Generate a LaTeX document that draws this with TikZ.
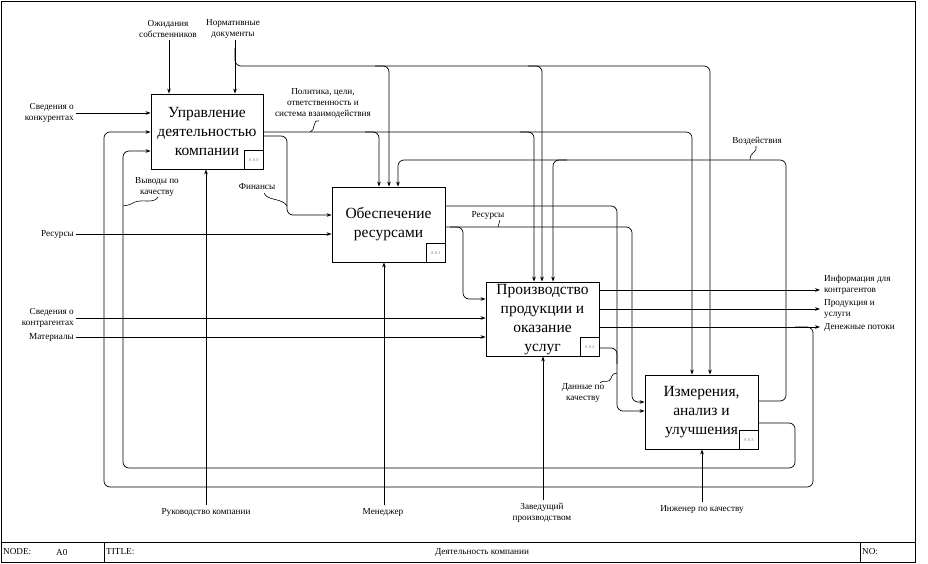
\documentclass[tikz,border=0pt]{standalone}
\usepackage{fontspec}
\setmainfont{Liberation Serif}
\usetikzlibrary{arrows.meta}
\begin{document}
\begin{tikzpicture}[x=1pt,y=-1pt,
  ln/.style={line width=0.7pt, rounded corners=6pt},
  arr/.style={ln, -{Stealth[length=5pt,width=3.6pt]}},
  fbox/.style={draw, line width=0.9pt, inner sep=0pt},
  ftext/.style={align=center, inner sep=0pt, font=\fontsize{15.5}{19}\selectfont},
  tagbox/.style={draw, line width=0.8pt, minimum size=19pt, inner sep=0pt, anchor=south east, font=\fontsize{4.5}{5}\selectfont, text=gray},
  lbl/.style={align=center, inner sep=0pt, font=\fontsize{9.2}{11}\selectfont},
  lblr/.style={lbl, align=right, anchor=east},
  lbll/.style={lbl, align=left, anchor=west},
  sq/.style={line width=0.6pt}
]
\useasboundingbox (0,0) rectangle (928,564);
% frame
\draw[line width=0.9pt] (1,1) rectangle (915,562);
\draw[line width=0.8pt] (1,542) -- (915,542);
\draw[line width=0.8pt] (104,542) -- (104,562);
\draw[line width=0.8pt] (860,542) -- (860,562);
\node[lbll] (fnode) at (3,552) {NODE:};
\node[lbll] (fa0) at (56,552) {A0};
\node[lbll] (ftitle) at (106,552) {TITLE:};
\node[lbl] (fname) at (482,552) {Деятельность компании};
\node[lbll] (fno) at (862,552) {NO:};

% function boxes
\node[fbox, minimum width=112pt, minimum height=75pt] (A0) at (207,131.5) {};
\node[fbox, minimum width=113pt, minimum height=75pt] (A1) at (388.5,224.5) {};
\node[fbox, minimum width=113pt, minimum height=74pt] (A2) at (542.5,319) {};
\node[fbox, minimum width=113pt, minimum height=74pt] (A3) at (701.5,412) {};
\node[ftext] (A0x) at (207,131.5) {Управление\\деятельностью\\компании};
\node[ftext] (A1x) at (388.5,224.5) {Обеспечение\\ресурсами};
\node[ftext] (A2x) at (542.5,319.5) {Производство\\продукции и\\оказание\\услуг};
\node[ftext] (A3x) at (701.5,412) {Измерения,\\анализ и\\улучшения};
\node[tagbox] (A0t) at (A0.south east) {A 0.0};
\node[tagbox] (A1t) at (A1.south east) {A 0.1};
\node[tagbox] (A2t) at (A2.south east) {A 0.2};
\node[tagbox] (A3t) at (A3.south east) {A 0.3};

% labels
\node[lbl] (lOzh) at (168,29) {Ожидания\\собственников};
\node[lbl] (lNorm) at (233,29) {Нормативные\\документы};
\node[lblr] (lKonk) at (74,112.5) {Сведения о\\конкурентах};
\node[lbl] (lPol) at (323,103) {Политика, цели,\\ответственность и\\система взаимодействия};
\node[lbl] (lVyv) at (157,187) {Выводы по\\качеству};
\node[lbl] (lFin) at (257,187) {Финансы};
\node[lblr] (lRes) at (74,234) {Ресурсы};
\node[lbl] (lRes2) at (488,215) {Ресурсы};
\node[lbl] (lVozd) at (757,141) {Воздействия};
\node[lblr] (lKontr) at (74,318) {Сведения о\\контрагентах};
\node[lblr] (lMat) at (74,337) {Материалы};
\node[lbll] (lInf) at (824,284.5) {Информация для\\контрагентов};
\node[lbll] (lProd) at (824,308.5) {Продукция и\\услуги};
\node[lbll] (lDen) at (824,327) {Денежные потоки};
\node[lbl] (lDan) at (583,393) {Данные по\\качеству};
\node[lbl] (lRuk) at (206,512) {Руководство компании};
\node[lbl] (lMen) at (383,512) {Менеджер};
\node[lbl] (lZav) at (542,513) {Заведущий\\производством};
\node[lbl] (lIng) at (702,509) {Инженер по качеству};

% free ends
\coordinate (cOzh) at (169,40);
\coordinate (cNorm) at (235,40);
\coordinate (cKonk) at (76,113);
\coordinate (cRes) at (76,234);
\coordinate (cKontr) at (76,318);
\coordinate (cMat) at (76,337);
\coordinate (cRuk) at (206,505);
\coordinate (cMen) at (384,505);
\coordinate (cZav) at (543,500);
\coordinate (cIng) at (702,502);
\coordinate (oInf) at (820,290);
\coordinate (oProd) at (820,309);
\coordinate (oDen) at (820,327);

% controls
\draw[arr] (cOzh) -- (cOzh |- A0.north);
\draw[arr] (cNorm) -- (cNorm |- A0.north);
\draw[arr] (235,48) -- (235,66) -- (710,66) -- (710,0 |- A3.north);
\draw[arr] (375,66) -- (389,66) -- (389,0 |- A1.north);
\draw[arr] (528,66) -- (542,66) -- (542,0 |- A2.north);
\draw[arr] (A0.east |- 0,132) -- (692,132) -- (692,0 |- A3.north);
\draw[arr] (365,132) -- (379,132) -- (379,0 |- A1.north);
\draw[arr] (520,132) -- (534,132) -- (534,0 |- A2.north);
\draw[arr] (A3.east |- 0,401) -- (786,401) -- (786,160) -- (553,160) -- (553,0 |- A2.north);
\draw[arr] (567,160) -- (398,160) -- (398,0 |- A1.north);

% inputs
\draw[arr] (cKonk) -- (A0.west |- cKonk);
\draw[arr] (cRes) -- (A1.west |- cRes);
\draw[arr] (cKontr) -- (A2.west |- cKontr);
\draw[arr] (cMat) -- (A2.west |- cMat);
\draw[arr] (A0.east |- 0,136) -- (287,136) -- (287,215) -- (A1.west |- 0,215);
\draw[arr] (A1.east |- 0,206) -- (617,206) -- (617,411) -- (A3.west |- 0,411);
\draw[arr] (A1.east |- 0,227) -- (632,227) -- (632,402) -- (A3.west |- 0,402);
\draw[arr] (450,227) -- (463,227) -- (463,299) -- (A2.west |- 0,299);
\draw[ln] (A2.east |- 0,348) -- (617,348) -- (617,364);

% feedback loops
\draw[arr] (A3.east |- 0,423) -- (795,423) -- (795,468) -- (123,468) -- (123,151) -- (A0.west |- 0,151);
\draw[arr] (795,327) -- (813,327) -- (813,487) -- (104,487) -- (104,132) -- (A0.west |- 0,132);

% outputs
\draw[arr] (A2.east |- oInf) -- (oInf);
\draw[arr] (A2.east |- oProd) -- (oProd);
\draw[arr] (A2.east |- oDen) -- (oDen);

% mechanisms
\draw[arr] (cRuk) -- (cRuk |- A0.south);
\draw[arr] (cMen) -- (cMen |- A1.south);
\draw[arr] (cZav) -- (cZav |- A2.south);
\draw[arr] (cIng) -- (cIng |- A3.south);

% squiggles
\draw[sq] (319,121) .. controls (312,119) and (316,131) .. (310,132);
\draw[sq] (158,197) .. controls (154,204) and (143,199) .. (135,202) .. controls (129,205) .. (123,206);
\draw[sq] (264,193) .. controls (267,201) and (283,198) .. (287,206);
\draw[sq] (500,220) .. controls (498,222) and (500,225) .. (498,227);
\draw[sq] (756,146) .. controls (757,154) and (750,151) .. (750,160);
\draw[sq] (600,383) .. controls (606,378) and (608,386) .. (612,376) .. controls (613,374) .. (617,373);
\end{tikzpicture}
\end{document}
